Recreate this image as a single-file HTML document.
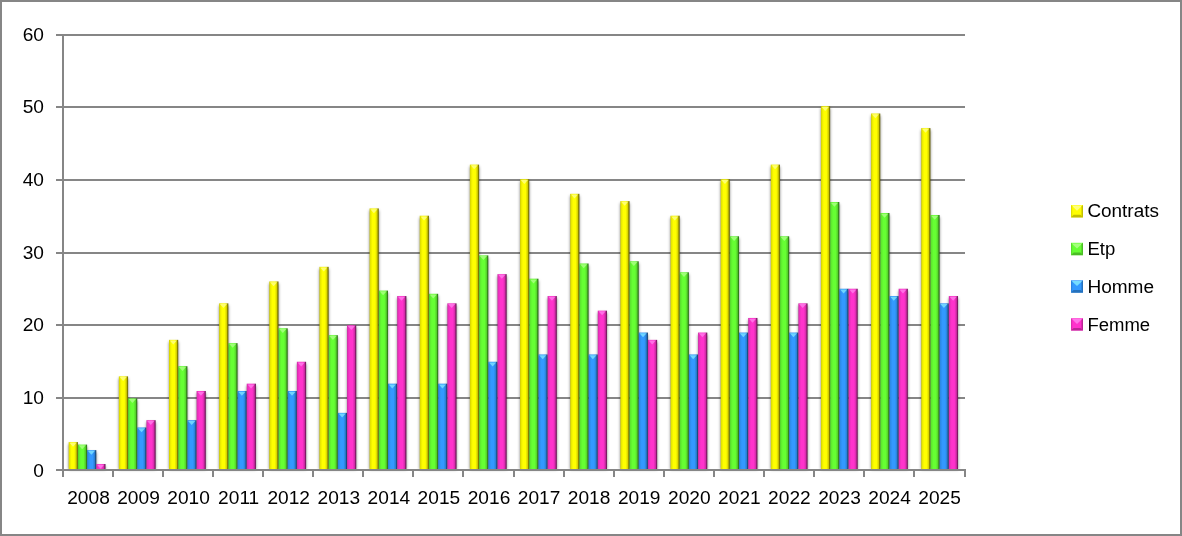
<!DOCTYPE html>
<html lang="fr"><head><meta charset="utf-8"><title>Contrats</title>
<style>
html,body{margin:0;padding:0;background:#fff;}
#chart{position:relative;width:1182px;height:536px;box-sizing:border-box;border:2px solid #868686;background:#fff;overflow:hidden;}
#chart svg{position:absolute;left:-2px;top:-2px;}
text{font-family:"Liberation Sans",sans-serif;font-size:18.5px;fill:#000;}
</style></head><body>
<div id="chart">
<svg width="1182" height="536" viewBox="0 0 1182 536">
<defs>
<linearGradient id="gy" x1="0" y1="0" x2="1" y2="0">
<stop offset="0" stop-color="#C8C400"/><stop offset="0.1" stop-color="#E6E600"/><stop offset="0.32" stop-color="#FFFF00"/><stop offset="0.6" stop-color="#FFFF00"/><stop offset="0.82" stop-color="#D2CE00"/><stop offset="0.9" stop-color="#8C8600"/><stop offset="1" stop-color="#6A6400"/>
</linearGradient>
<linearGradient id="gg" x1="0" y1="0" x2="1" y2="0">
<stop offset="0" stop-color="#4CC428"/><stop offset="0.1" stop-color="#5CE62E"/><stop offset="0.32" stop-color="#66FF33"/><stop offset="0.6" stop-color="#66FF33"/><stop offset="0.82" stop-color="#54D22A"/><stop offset="0.9" stop-color="#388C1C"/><stop offset="1" stop-color="#2A6A14"/>
</linearGradient>
<linearGradient id="gb" x1="0" y1="0" x2="1" y2="0">
<stop offset="0" stop-color="#2878C8"/><stop offset="0.1" stop-color="#2E8AE6"/><stop offset="0.32" stop-color="#3399FF"/><stop offset="0.6" stop-color="#3399FF"/><stop offset="0.82" stop-color="#2A7ED2"/><stop offset="0.9" stop-color="#1C548C"/><stop offset="1" stop-color="#143E6A"/>
</linearGradient>
<linearGradient id="gm" x1="0" y1="0" x2="1" y2="0">
<stop offset="0" stop-color="#C828A0"/><stop offset="0.1" stop-color="#E62EB8"/><stop offset="0.32" stop-color="#FF33CC"/><stop offset="0.6" stop-color="#FF33CC"/><stop offset="0.82" stop-color="#D22AA8"/><stop offset="0.9" stop-color="#8C1C70"/><stop offset="1" stop-color="#6A1454"/>
</linearGradient>
<filter id="sh" x="-10%" y="-10%" width="120%" height="120%"><feGaussianBlur stdDeviation="1.8"/></filter>
</defs>
<g fill="#868686" shape-rendering="crispEdges">
<rect x="56" y="34" width="909" height="2"/>
<rect x="56" y="106" width="909" height="2"/>
<rect x="56" y="179" width="909" height="2"/>
<rect x="56" y="252" width="909" height="2"/>
<rect x="56" y="324" width="909" height="2"/>
<rect x="56" y="397" width="909" height="2"/>
<rect x="62" y="34" width="2" height="437"/>
<rect x="56" y="469" width="910" height="2"/>
<rect x="62" y="469" width="2" height="8"/>
<rect x="112" y="469" width="2" height="8"/>
<rect x="162" y="469" width="2" height="8"/>
<rect x="212" y="469" width="2" height="8"/>
<rect x="262" y="469" width="2" height="8"/>
<rect x="312" y="469" width="2" height="8"/>
<rect x="362" y="469" width="2" height="8"/>
<rect x="412" y="469" width="2" height="8"/>
<rect x="462" y="469" width="2" height="8"/>
<rect x="513" y="469" width="2" height="8"/>
<rect x="563" y="469" width="2" height="8"/>
<rect x="613" y="469" width="2" height="8"/>
<rect x="663" y="469" width="2" height="8"/>
<rect x="713" y="469" width="2" height="8"/>
<rect x="763" y="469" width="2" height="8"/>
<rect x="813" y="469" width="2" height="8"/>
<rect x="863" y="469" width="2" height="8"/>
<rect x="913" y="469" width="2" height="8"/>
<rect x="964" y="469" width="2" height="8"/>
</g>
<g filter="url(#sh)" fill="#000" fill-opacity="0.5">
<rect x="68.70" y="444.09" width="9.20" height="25.41"/>
<rect x="118.85" y="378.37" width="9.20" height="91.13"/>
<rect x="169.00" y="341.86" width="9.20" height="127.64"/>
<rect x="219.14" y="305.35" width="9.20" height="164.15"/>
<rect x="269.29" y="283.45" width="9.20" height="186.05"/>
<rect x="319.44" y="268.84" width="9.20" height="200.66"/>
<rect x="369.59" y="210.43" width="9.20" height="259.07"/>
<rect x="419.74" y="217.73" width="9.20" height="251.77"/>
<rect x="469.88" y="166.62" width="9.20" height="302.88"/>
<rect x="520.03" y="181.22" width="9.20" height="288.28"/>
<rect x="570.18" y="195.82" width="9.20" height="273.68"/>
<rect x="620.33" y="203.13" width="9.20" height="266.37"/>
<rect x="670.48" y="217.73" width="9.20" height="251.77"/>
<rect x="720.62" y="181.22" width="9.20" height="288.28"/>
<rect x="770.77" y="166.62" width="9.20" height="302.88"/>
<rect x="820.92" y="108.20" width="9.20" height="361.30"/>
<rect x="871.07" y="115.50" width="9.20" height="354.00"/>
<rect x="921.22" y="130.11" width="9.20" height="339.39"/>
<rect x="77.90" y="446.60" width="9.20" height="22.90"/>
<rect x="128.05" y="400.40" width="9.20" height="69.10"/>
<rect x="178.20" y="368.20" width="9.20" height="101.30"/>
<rect x="228.34" y="345.15" width="9.20" height="124.35"/>
<rect x="278.49" y="330.30" width="9.20" height="139.20"/>
<rect x="328.64" y="337.20" width="9.20" height="132.30"/>
<rect x="378.79" y="292.60" width="9.20" height="176.90"/>
<rect x="428.94" y="295.80" width="9.20" height="173.70"/>
<rect x="479.08" y="257.40" width="9.20" height="212.10"/>
<rect x="529.23" y="280.70" width="9.20" height="188.80"/>
<rect x="579.38" y="265.50" width="9.20" height="204.00"/>
<rect x="629.53" y="263.30" width="9.20" height="206.20"/>
<rect x="679.68" y="274.30" width="9.20" height="195.20"/>
<rect x="729.82" y="238.30" width="9.20" height="231.20"/>
<rect x="779.97" y="238.30" width="9.20" height="231.20"/>
<rect x="830.12" y="204.00" width="9.20" height="265.50"/>
<rect x="880.27" y="215.00" width="9.20" height="254.50"/>
<rect x="930.42" y="217.00" width="9.20" height="252.50"/>
<rect x="87.10" y="452.12" width="9.20" height="17.38"/>
<rect x="137.25" y="429.49" width="9.20" height="40.01"/>
<rect x="187.40" y="422.19" width="9.20" height="47.31"/>
<rect x="237.54" y="392.98" width="9.20" height="76.52"/>
<rect x="287.69" y="392.98" width="9.20" height="76.52"/>
<rect x="337.84" y="414.88" width="9.20" height="54.62"/>
<rect x="387.99" y="385.68" width="9.20" height="83.82"/>
<rect x="438.14" y="385.68" width="9.20" height="83.82"/>
<rect x="488.28" y="363.77" width="9.20" height="105.73"/>
<rect x="538.43" y="356.47" width="9.20" height="113.03"/>
<rect x="588.58" y="356.47" width="9.20" height="113.03"/>
<rect x="638.73" y="334.56" width="9.20" height="134.94"/>
<rect x="688.88" y="356.47" width="9.20" height="113.03"/>
<rect x="739.02" y="334.56" width="9.20" height="134.94"/>
<rect x="789.17" y="334.56" width="9.20" height="134.94"/>
<rect x="839.32" y="290.75" width="9.20" height="178.75"/>
<rect x="889.47" y="298.05" width="9.20" height="171.45"/>
<rect x="939.62" y="305.35" width="9.20" height="164.15"/>
<rect x="96.30" y="466.00" width="9.20" height="3.50"/>
<rect x="146.45" y="422.19" width="9.20" height="47.31"/>
<rect x="196.60" y="392.98" width="9.20" height="76.52"/>
<rect x="246.74" y="385.68" width="9.20" height="83.82"/>
<rect x="296.89" y="363.77" width="9.20" height="105.73"/>
<rect x="347.04" y="327.26" width="9.20" height="142.24"/>
<rect x="397.19" y="298.05" width="9.20" height="171.45"/>
<rect x="447.34" y="305.35" width="9.20" height="164.15"/>
<rect x="497.48" y="276.15" width="9.20" height="193.35"/>
<rect x="547.63" y="298.05" width="9.20" height="171.45"/>
<rect x="597.78" y="312.66" width="9.20" height="156.84"/>
<rect x="647.93" y="341.86" width="9.20" height="127.64"/>
<rect x="698.08" y="334.56" width="9.20" height="134.94"/>
<rect x="748.22" y="319.96" width="9.20" height="149.54"/>
<rect x="798.37" y="305.35" width="9.20" height="164.15"/>
<rect x="848.52" y="290.75" width="9.20" height="178.75"/>
<rect x="898.67" y="290.75" width="9.20" height="178.75"/>
<rect x="948.82" y="298.05" width="9.20" height="171.45"/>
</g>
<g fill="url(#gy)">
<rect x="68.70" y="442.09" width="9.20" height="27.41"/>
<rect x="118.85" y="376.37" width="9.20" height="93.13"/>
<rect x="169.00" y="339.86" width="9.20" height="129.64"/>
<rect x="219.14" y="303.35" width="9.20" height="166.15"/>
<rect x="269.29" y="281.45" width="9.20" height="188.05"/>
<rect x="319.44" y="266.84" width="9.20" height="202.66"/>
<rect x="369.59" y="208.43" width="9.20" height="261.07"/>
<rect x="419.74" y="215.73" width="9.20" height="253.77"/>
<rect x="469.88" y="164.62" width="9.20" height="304.88"/>
<rect x="520.03" y="179.22" width="9.20" height="290.28"/>
<rect x="570.18" y="193.82" width="9.20" height="275.68"/>
<rect x="620.33" y="201.13" width="9.20" height="268.37"/>
<rect x="670.48" y="215.73" width="9.20" height="253.77"/>
<rect x="720.62" y="179.22" width="9.20" height="290.28"/>
<rect x="770.77" y="164.62" width="9.20" height="304.88"/>
<rect x="820.92" y="106.20" width="9.20" height="363.30"/>
<rect x="871.07" y="113.50" width="9.20" height="356.00"/>
<rect x="921.22" y="128.11" width="9.20" height="341.39"/>
</g>
<g fill="#FFFF9A" fill-opacity="0.72">
<path d="M69.40 442.79L76.60 442.79L73.00 446.79Z"/>
<path d="M119.55 377.07L126.75 377.07L123.15 381.07Z"/>
<path d="M169.70 340.56L176.90 340.56L173.30 344.56Z"/>
<path d="M219.84 304.05L227.04 304.05L223.44 308.05Z"/>
<path d="M269.99 282.15L277.19 282.15L273.59 286.15Z"/>
<path d="M320.14 267.54L327.34 267.54L323.74 271.54Z"/>
<path d="M370.29 209.13L377.49 209.13L373.89 213.13Z"/>
<path d="M420.44 216.43L427.64 216.43L424.04 220.43Z"/>
<path d="M470.58 165.32L477.78 165.32L474.18 169.32Z"/>
<path d="M520.73 179.92L527.93 179.92L524.33 183.92Z"/>
<path d="M570.88 194.52L578.08 194.52L574.48 198.52Z"/>
<path d="M621.03 201.83L628.23 201.83L624.63 205.83Z"/>
<path d="M671.18 216.43L678.38 216.43L674.78 220.43Z"/>
<path d="M721.32 179.92L728.52 179.92L724.92 183.92Z"/>
<path d="M771.47 165.32L778.67 165.32L775.07 169.32Z"/>
<path d="M821.62 106.90L828.82 106.90L825.22 110.90Z"/>
<path d="M871.77 114.20L878.97 114.20L875.37 118.20Z"/>
<path d="M921.92 128.81L929.12 128.81L925.52 132.81Z"/>
</g>
<g fill="url(#gg)">
<rect x="77.90" y="444.60" width="9.20" height="24.90"/>
<rect x="128.05" y="398.40" width="9.20" height="71.10"/>
<rect x="178.20" y="366.20" width="9.20" height="103.30"/>
<rect x="228.34" y="343.15" width="9.20" height="126.35"/>
<rect x="278.49" y="328.30" width="9.20" height="141.20"/>
<rect x="328.64" y="335.20" width="9.20" height="134.30"/>
<rect x="378.79" y="290.60" width="9.20" height="178.90"/>
<rect x="428.94" y="293.80" width="9.20" height="175.70"/>
<rect x="479.08" y="255.40" width="9.20" height="214.10"/>
<rect x="529.23" y="278.70" width="9.20" height="190.80"/>
<rect x="579.38" y="263.50" width="9.20" height="206.00"/>
<rect x="629.53" y="261.30" width="9.20" height="208.20"/>
<rect x="679.68" y="272.30" width="9.20" height="197.20"/>
<rect x="729.82" y="236.30" width="9.20" height="233.20"/>
<rect x="779.97" y="236.30" width="9.20" height="233.20"/>
<rect x="830.12" y="202.00" width="9.20" height="267.50"/>
<rect x="880.27" y="213.00" width="9.20" height="256.50"/>
<rect x="930.42" y="215.00" width="9.20" height="254.50"/>
</g>
<g fill="#B4FF90" fill-opacity="0.72">
<path d="M78.60 445.30L85.80 445.30L82.20 449.30Z"/>
<path d="M128.75 399.10L135.95 399.10L132.35 403.10Z"/>
<path d="M178.90 366.90L186.10 366.90L182.50 370.90Z"/>
<path d="M229.04 343.85L236.24 343.85L232.64 347.85Z"/>
<path d="M279.19 329.00L286.39 329.00L282.79 333.00Z"/>
<path d="M329.34 335.90L336.54 335.90L332.94 339.90Z"/>
<path d="M379.49 291.30L386.69 291.30L383.09 295.30Z"/>
<path d="M429.64 294.50L436.84 294.50L433.24 298.50Z"/>
<path d="M479.78 256.10L486.98 256.10L483.38 260.10Z"/>
<path d="M529.93 279.40L537.13 279.40L533.53 283.40Z"/>
<path d="M580.08 264.20L587.28 264.20L583.68 268.20Z"/>
<path d="M630.23 262.00L637.43 262.00L633.83 266.00Z"/>
<path d="M680.38 273.00L687.58 273.00L683.98 277.00Z"/>
<path d="M730.52 237.00L737.72 237.00L734.12 241.00Z"/>
<path d="M780.67 237.00L787.87 237.00L784.27 241.00Z"/>
<path d="M830.82 202.70L838.02 202.70L834.42 206.70Z"/>
<path d="M880.97 213.70L888.17 213.70L884.57 217.70Z"/>
<path d="M931.12 215.70L938.32 215.70L934.72 219.70Z"/>
</g>
<g fill="url(#gb)">
<rect x="87.10" y="450.12" width="9.20" height="19.38"/>
<rect x="137.25" y="427.49" width="9.20" height="42.01"/>
<rect x="187.40" y="420.19" width="9.20" height="49.31"/>
<rect x="237.54" y="390.98" width="9.20" height="78.52"/>
<rect x="287.69" y="390.98" width="9.20" height="78.52"/>
<rect x="337.84" y="412.88" width="9.20" height="56.62"/>
<rect x="387.99" y="383.68" width="9.20" height="85.82"/>
<rect x="438.14" y="383.68" width="9.20" height="85.82"/>
<rect x="488.28" y="361.77" width="9.20" height="107.73"/>
<rect x="538.43" y="354.47" width="9.20" height="115.03"/>
<rect x="588.58" y="354.47" width="9.20" height="115.03"/>
<rect x="638.73" y="332.56" width="9.20" height="136.94"/>
<rect x="688.88" y="354.47" width="9.20" height="115.03"/>
<rect x="739.02" y="332.56" width="9.20" height="136.94"/>
<rect x="789.17" y="332.56" width="9.20" height="136.94"/>
<rect x="839.32" y="288.75" width="9.20" height="180.75"/>
<rect x="889.47" y="296.05" width="9.20" height="173.45"/>
<rect x="939.62" y="303.35" width="9.20" height="166.15"/>
</g>
<g fill="#86ECFF" fill-opacity="0.72">
<path d="M87.80 450.82L95.00 450.82L91.40 454.82Z"/>
<path d="M137.95 428.19L145.15 428.19L141.55 432.19Z"/>
<path d="M188.10 420.89L195.30 420.89L191.70 424.89Z"/>
<path d="M238.24 391.68L245.44 391.68L241.84 395.68Z"/>
<path d="M288.39 391.68L295.59 391.68L291.99 395.68Z"/>
<path d="M338.54 413.58L345.74 413.58L342.14 417.58Z"/>
<path d="M388.69 384.38L395.89 384.38L392.29 388.38Z"/>
<path d="M438.84 384.38L446.04 384.38L442.44 388.38Z"/>
<path d="M488.98 362.47L496.18 362.47L492.58 366.47Z"/>
<path d="M539.13 355.17L546.33 355.17L542.73 359.17Z"/>
<path d="M589.28 355.17L596.48 355.17L592.88 359.17Z"/>
<path d="M639.43 333.26L646.63 333.26L643.03 337.26Z"/>
<path d="M689.58 355.17L696.78 355.17L693.18 359.17Z"/>
<path d="M739.72 333.26L746.92 333.26L743.32 337.26Z"/>
<path d="M789.87 333.26L797.07 333.26L793.47 337.26Z"/>
<path d="M840.02 289.45L847.22 289.45L843.62 293.45Z"/>
<path d="M890.17 296.75L897.37 296.75L893.77 300.75Z"/>
<path d="M940.32 304.05L947.52 304.05L943.92 308.05Z"/>
</g>
<g fill="url(#gm)">
<rect x="96.30" y="464.00" width="9.20" height="5.50"/>
<rect x="146.45" y="420.19" width="9.20" height="49.31"/>
<rect x="196.60" y="390.98" width="9.20" height="78.52"/>
<rect x="246.74" y="383.68" width="9.20" height="85.82"/>
<rect x="296.89" y="361.77" width="9.20" height="107.73"/>
<rect x="347.04" y="325.26" width="9.20" height="144.24"/>
<rect x="397.19" y="296.05" width="9.20" height="173.45"/>
<rect x="447.34" y="303.35" width="9.20" height="166.15"/>
<rect x="497.48" y="274.15" width="9.20" height="195.35"/>
<rect x="547.63" y="296.05" width="9.20" height="173.45"/>
<rect x="597.78" y="310.66" width="9.20" height="158.84"/>
<rect x="647.93" y="339.86" width="9.20" height="129.64"/>
<rect x="698.08" y="332.56" width="9.20" height="136.94"/>
<rect x="748.22" y="317.96" width="9.20" height="151.54"/>
<rect x="798.37" y="303.35" width="9.20" height="166.15"/>
<rect x="848.52" y="288.75" width="9.20" height="180.75"/>
<rect x="898.67" y="288.75" width="9.20" height="180.75"/>
<rect x="948.82" y="296.05" width="9.20" height="173.45"/>
</g>
<g fill="#FF86F0" fill-opacity="0.72">
<path d="M97.00 464.70L104.20 464.70L100.60 468.70Z"/>
<path d="M147.15 420.89L154.35 420.89L150.75 424.89Z"/>
<path d="M197.30 391.68L204.50 391.68L200.90 395.68Z"/>
<path d="M247.44 384.38L254.64 384.38L251.04 388.38Z"/>
<path d="M297.59 362.47L304.79 362.47L301.19 366.47Z"/>
<path d="M347.74 325.96L354.94 325.96L351.34 329.96Z"/>
<path d="M397.89 296.75L405.09 296.75L401.49 300.75Z"/>
<path d="M448.04 304.05L455.24 304.05L451.64 308.05Z"/>
<path d="M498.18 274.85L505.38 274.85L501.78 278.85Z"/>
<path d="M548.33 296.75L555.53 296.75L551.93 300.75Z"/>
<path d="M598.48 311.36L605.68 311.36L602.08 315.36Z"/>
<path d="M648.63 340.56L655.83 340.56L652.23 344.56Z"/>
<path d="M698.78 333.26L705.98 333.26L702.38 337.26Z"/>
<path d="M748.92 318.66L756.12 318.66L752.52 322.66Z"/>
<path d="M799.07 304.05L806.27 304.05L802.67 308.05Z"/>
<path d="M849.22 289.45L856.42 289.45L852.82 293.45Z"/>
<path d="M899.37 289.45L906.57 289.45L902.97 293.45Z"/>
<path d="M949.52 296.75L956.72 296.75L953.12 300.75Z"/>
</g>
<g fill="#868686" shape-rendering="crispEdges"><rect x="56" y="469" width="910" height="2"/></g>
<text transform="translate(44.0 40.7) scale(1.035 1)" text-anchor="end">60</text>
<text transform="translate(44.0 113.4) scale(1.035 1)" text-anchor="end">50</text>
<text transform="translate(44.0 186.0) scale(1.035 1)" text-anchor="end">40</text>
<text transform="translate(44.0 258.7) scale(1.035 1)" text-anchor="end">30</text>
<text transform="translate(44.0 331.4) scale(1.035 1)" text-anchor="end">20</text>
<text transform="translate(44.0 404.1) scale(1.035 1)" text-anchor="end">10</text>
<text transform="translate(44.0 476.7) scale(1.035 1)" text-anchor="end">0</text>
<text transform="translate(88.5 503.8) scale(1.035 1)" text-anchor="middle">2008</text>
<text transform="translate(138.5 503.8) scale(1.035 1)" text-anchor="middle">2009</text>
<text transform="translate(188.6 503.8) scale(1.035 1)" text-anchor="middle">2010</text>
<text transform="translate(238.7 503.8) scale(1.035 1)" text-anchor="middle">2011</text>
<text transform="translate(288.7 503.8) scale(1.035 1)" text-anchor="middle">2012</text>
<text transform="translate(338.8 503.8) scale(1.035 1)" text-anchor="middle">2013</text>
<text transform="translate(388.9 503.8) scale(1.035 1)" text-anchor="middle">2014</text>
<text transform="translate(438.9 503.8) scale(1.035 1)" text-anchor="middle">2015</text>
<text transform="translate(489.0 503.8) scale(1.035 1)" text-anchor="middle">2016</text>
<text transform="translate(539.1 503.8) scale(1.035 1)" text-anchor="middle">2017</text>
<text transform="translate(589.1 503.8) scale(1.035 1)" text-anchor="middle">2018</text>
<text transform="translate(639.2 503.8) scale(1.035 1)" text-anchor="middle">2019</text>
<text transform="translate(689.3 503.8) scale(1.035 1)" text-anchor="middle">2020</text>
<text transform="translate(739.4 503.8) scale(1.035 1)" text-anchor="middle">2021</text>
<text transform="translate(789.4 503.8) scale(1.035 1)" text-anchor="middle">2022</text>
<text transform="translate(839.5 503.8) scale(1.035 1)" text-anchor="middle">2023</text>
<text transform="translate(889.6 503.8) scale(1.035 1)" text-anchor="middle">2024</text>
<text transform="translate(939.6 503.8) scale(1.035 1)" text-anchor="middle">2025</text>
<g transform="translate(1071 205.0)">
<rect x="0" y="0" width="12" height="12.4" fill="#FFFF00"/>
<path d="M0.6 0.6h10.8l-5.4 5.2z" fill="#FFFF9A" fill-opacity="0.8"/>
<path d="M0 12.4l2.6 -2.6h6.8l2.6 2.6z" fill="#A8A400" fill-opacity="0.7"/>
<path d="M12 0v12.4l-1.5 -1.5v-9.4z" fill="#A8A400" fill-opacity="0.7"/>
<path d="M0 0v12.4l1.2 -1.2v-10z" fill="#A8A400" fill-opacity="0.35"/>
</g>
<text transform="translate(1087.4 216.9) scale(1.023 1)">Contrats</text>
<g transform="translate(1071 242.8)">
<rect x="0" y="0" width="12" height="12.4" fill="#66FF33"/>
<path d="M0.6 0.6h10.8l-5.4 5.2z" fill="#B4FF90" fill-opacity="0.8"/>
<path d="M0 12.4l2.6 -2.6h6.8l2.6 2.6z" fill="#40A020" fill-opacity="0.7"/>
<path d="M12 0v12.4l-1.5 -1.5v-9.4z" fill="#40A020" fill-opacity="0.7"/>
<path d="M0 0v12.4l1.2 -1.2v-10z" fill="#40A020" fill-opacity="0.35"/>
</g>
<text transform="translate(1087.4 254.8) scale(1.0 1)">Etp</text>
<g transform="translate(1071 280.3)">
<rect x="0" y="0" width="12" height="12.4" fill="#3399FF"/>
<path d="M0.6 0.6h10.8l-5.4 5.2z" fill="#86ECFF" fill-opacity="0.8"/>
<path d="M0 12.4l2.6 -2.6h6.8l2.6 2.6z" fill="#2060A0" fill-opacity="0.7"/>
<path d="M12 0v12.4l-1.5 -1.5v-9.4z" fill="#2060A0" fill-opacity="0.7"/>
<path d="M0 0v12.4l1.2 -1.2v-10z" fill="#2060A0" fill-opacity="0.35"/>
</g>
<text transform="translate(1087.4 292.9) scale(1.03 1)">Homme</text>
<g transform="translate(1071 318.2)">
<rect x="0" y="0" width="12" height="12.4" fill="#FF33CC"/>
<path d="M0.6 0.6h10.8l-5.4 5.2z" fill="#FF86F0" fill-opacity="0.8"/>
<path d="M0 12.4l2.6 -2.6h6.8l2.6 2.6z" fill="#A02080" fill-opacity="0.7"/>
<path d="M12 0v12.4l-1.5 -1.5v-9.4z" fill="#A02080" fill-opacity="0.7"/>
<path d="M0 0v12.4l1.2 -1.2v-10z" fill="#A02080" fill-opacity="0.35"/>
</g>
<text transform="translate(1087.4 330.8) scale(1.002 1)">Femme</text>
</svg>
</div>
</body></html>
